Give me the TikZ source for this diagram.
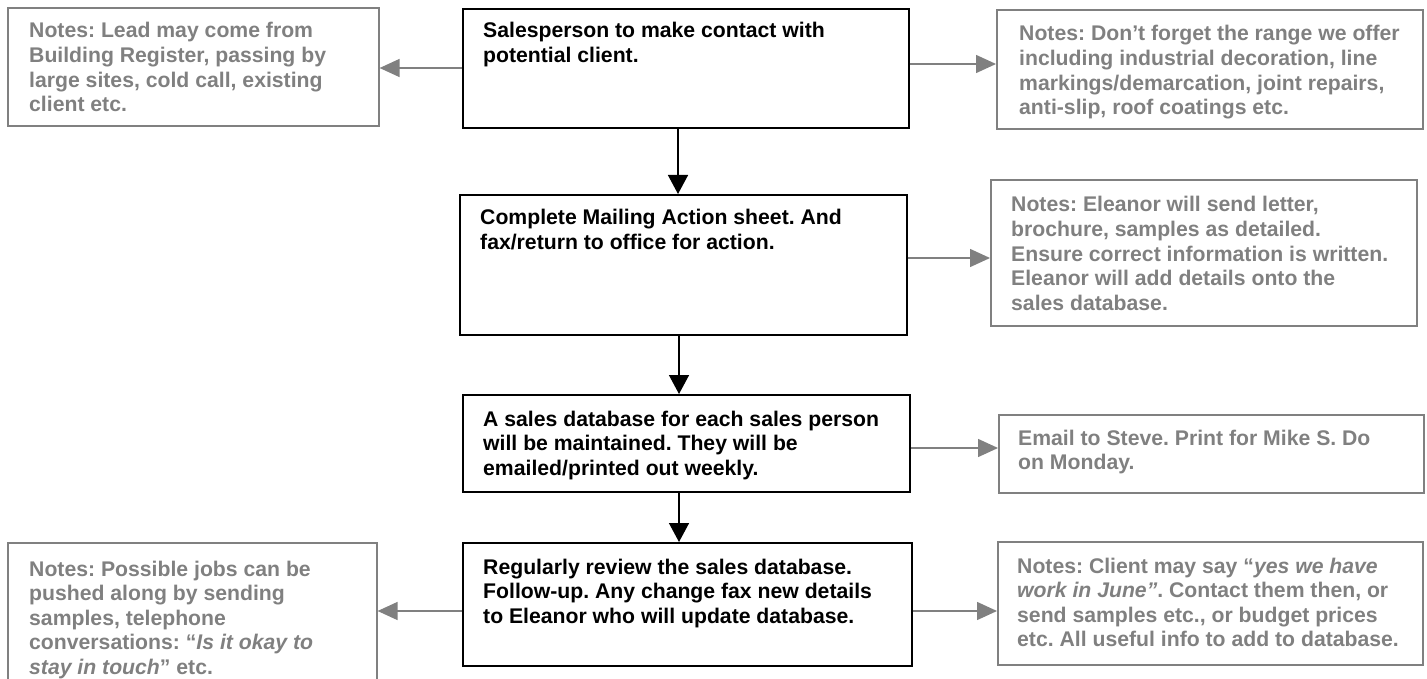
\documentclass[tikz,border=0pt]{standalone}
\usepackage{fontspec}
\setmainfont{Liberation Sans}
\usetikzlibrary{arrows.meta,calc}

\definecolor{notegray}{HTML}{808080}

% fixed-width paragraph whose reference point is the first baseline
\newcommand{\flowpar}[1]{\parbox[t]{440pt}{\raggedright\frenchspacing #1}}

\tikzset{
  stepbox/.style={draw=black, line width=1.8pt, inner sep=0pt, anchor=north west},
  notebox/.style={draw=notegray, line width=1.6pt, inner sep=0pt, anchor=north west},
  steptext/.style={anchor=base west, inner sep=0pt, text=black,
    font=\fontsize{21.2}{24.6}\selectfont\bfseries},
  notetext/.style={anchor=base west, inner sep=0pt, text=notegray,
    font=\fontsize{21.2}{24.6}\selectfont\bfseries},
  flow/.style={-{Triangle[width=20pt,length=19pt]}, line width=1.5pt, draw=black},
  aside/.style={-{Triangle[width=18pt,length=20pt]}, line width=1.5pt, draw=notegray},
}

\begin{document}
\begin{tikzpicture}[x=1pt, y=-1pt]
\useasboundingbox (0,0) rectangle (1427,679);

% main process steps
\node[stepbox, minimum width=446pt, minimum height=119pt] (s1) at (462,8) {};
\node[stepbox, minimum width=447pt, minimum height=140pt] (s2) at (459,194) {};
\node[stepbox, minimum width=447pt, minimum height=97pt]  (s3) at (462,394) {};
\node[stepbox, minimum width=449pt, minimum height=123pt] (s4) at (462,542) {};

\node[steptext] (s1t) at (483,38) {\flowpar{Salesperson to make contact with\\potential client.}};
\node[steptext] (s2t) at (480,225) {\flowpar{Complete Mailing Action sheet. And\\fax/return to office for action.}};
\node[steptext] (s3t) at (483,426) {\flowpar{A sales database for each sales person\\will be maintained. They will be\\emailed/printed out weekly.}};
\node[steptext] (s4t) at (483,574) {\flowpar{Regularly review the sales database.\\Follow-up. Any change fax new details\\to Eleanor who will update database.}};

% side notes
\node[notebox, minimum width=371pt, minimum height=118pt] (nl1) at (7,7) {};
\node[notebox, minimum width=426pt, minimum height=119pt] (nr1) at (996,9) {};
\node[notebox, minimum width=426pt, minimum height=146pt] (nr2) at (990,179) {};
\node[notebox, minimum width=425pt, minimum height=78pt]  (nr3) at (998,414) {};
\node[notebox, minimum width=425pt, minimum height=123pt] (nr4) at (997,541) {};
\node[notebox, minimum width=369pt, minimum height=150pt] (nl4) at (7,542) {};

\node[notetext] (nl1t) at (29,38) {\flowpar{Notes: Lead may come from\\Building Register, passing by\\large sites, cold call, existing\\client etc.}};
\node[notetext] (nr1t) at (1019,41) {\flowpar{Notes: Don’t forget the range we offer\\including industrial decoration, line\\markings/demarcation, joint repairs,\\anti-slip, roof coatings etc.}};
\node[notetext] (nr2t) at (1011,212) {\flowpar{Notes: Eleanor will send letter,\\brochure, samples as detailed.\\Ensure correct information is written.\\Eleanor will add details onto the\\sales database.}};
\node[notetext] (nr3t) at (1018,445) {\flowpar{Email to Steve. Print for Mike S. Do\\on Monday.}};
\node[notetext] (nr4t) at (1017,573) {\flowpar{Notes: Client may say “\textit{yes we have}\\\textit{work in June”}. Contact them then, or\\send samples etc., or budget prices\\etc. All useful info to add to database.}};
\node[notetext] (nl4t) at (29,576) {\flowpar{Notes: Possible jobs can be\\pushed along by sending\\samples, telephone\\conversations: “\textit{Is it okay to}\\\textit{stay in touch}” etc.}};

% flow between steps
\draw[flow] (s1.south -| 678,0) -- (s2.north -| 678,0);
\draw[flow] (s2.south -| 679,0) -- (s3.north -| 679,0);
\draw[flow] (s3.south -| 679,0) -- (s4.north -| 679,0);

% links to the notes
\draw[aside] (s1.west |- 0,68)  -- (nl1.east |- 0,68);
\draw[aside] (s1.east |- 0,64)  -- (nr1.west |- 0,64);
\draw[aside] (s2.east |- 0,258) -- (nr2.west |- 0,258);
\draw[aside] (s3.east |- 0,448) -- (nr3.west |- 0,448);
\draw[aside] (s4.east |- 0,611) -- (nr4.west |- 0,611);
\draw[aside] (s4.west |- 0,611) -- (nl4.east |- 0,611);
\end{tikzpicture}
\end{document}
